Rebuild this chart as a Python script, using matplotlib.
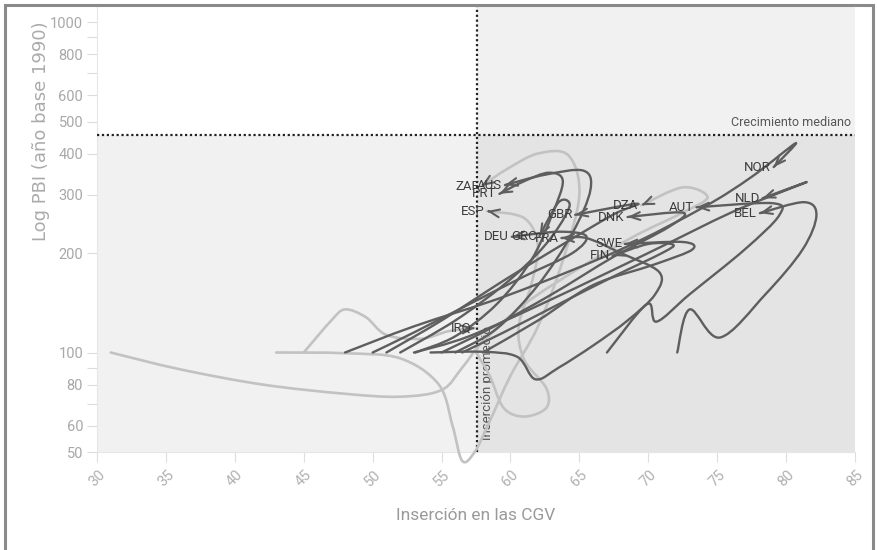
import numpy as np
import matplotlib
matplotlib.use("Agg")
import matplotlib.pyplot as plt
from matplotlib.path import Path
from matplotlib.patches import PathPatch, Rectangle
from matplotlib.ticker import FixedLocator, NullFormatter

# ---- data: GVC insertion (x) vs GDP index, 1990 = 100 (y) ----
countries = ["DZA", "ZAF", "IRQ", "ESP", "NOR", "NLD", "BEL", "AUT", "DNK",
             "GBR", "SWE", "FIN", "DEU", "GRC", "FRA", "AUS", "PRT"]

DZA_x = [31, 36, 42, 48, 52, 55, 56.5, 58, 61, 65, 69, 72.5, 74.3, 72.5, 69.5]
DZA_y = [100, 89, 80, 75, 73.5, 77, 90, 108, 140, 180, 225, 265, 295, 316, 279]

ZAF_x = [43, 48, 52, 54.8, 55.8, 56.5, 57.4, 58.5, 60, 62, 63.8, 65, 64.2, 62, 59.8, 57.9]
ZAF_y = [100, 99.5, 96, 80, 60, 47, 50, 62, 85, 120, 190, 300, 395, 400, 360, 319]

IRQ_x = [45, 47, 48, 49.5, 51, 53.5, 55.5, 57.4]
IRQ_y = [100, 125, 135, 128, 113, 110, 116, 118.6]

ESP_x = [57.5, 58.5, 59.5, 61, 62.6, 62.6, 61, 60.6, 61.5, 62, 61, 58.3]
ESP_y = [100, 85, 68, 64, 68, 78, 95, 120, 160, 210, 255, 268]

NOR_x = [48, 53, 60, 68, 74, 77.5, 80.7, 79.1]
NOR_y = [100, 120, 150, 205, 275, 340, 430, 364]

NLD_x = [53, 57, 63, 70, 76, 80, 81.5, 78.3]
NLD_y = [100, 112, 145, 200, 265, 310, 328, 293]

BEL_x = [72.1, 73.0, 75.2, 78.5, 81.2, 82.2, 81.3, 78.1]
BEL_y = [100, 135, 111, 150, 205, 260, 285, 264]

AUT_x = [67, 69.9, 70.6, 73, 77, 79.5, 79, 73.5]
AUT_y = [100, 140, 124, 150, 205, 260, 283, 275]

DNK_x = [55, 58.5, 63, 67.5, 71.5, 72.5, 68.5]
DNK_y = [100, 118, 150, 195, 240, 265, 257]

GBR_x = [51, 55, 59.5, 64, 67.5, 69.2, 64.7]
GBR_y = [100, 125, 165, 215, 262, 282, 261]

SWE_x = [58, 62, 66, 70.5, 73.2, 72.5, 68.3]
SWE_y = [100, 125, 160, 185, 205, 216, 213]

FIN_x = [56.5, 59.5, 63.5, 67.5, 71, 71.8, 70, 67.4]
FIN_y = [100, 115, 140, 170, 200, 212, 213, 196]

DEU_x = [50, 53, 57, 61, 64.5, 65.5, 63.5, 60.1]
DEU_y = [100, 115, 140, 170, 200, 225, 232, 224]

GRC_x = [52, 56, 59.5, 62, 63.5, 64.3, 63.5, 62.1]
GRC_y = [100, 125, 160, 200, 240, 280, 285, 225]

FRA_x = [54.2, 58, 60.5, 61.8, 63.5, 66, 68.5, 70.5, 70.8, 68, 65.5, 63.7]
FRA_y = [100, 100.5, 97, 83, 90, 105, 125, 150, 175, 200, 222, 222]

AUS_x = [56, 59, 62, 64.5, 65.8, 65.3, 62.5, 59.6]
AUS_y = [100, 118, 160, 230, 310, 355, 345, 321]

PRT_x = [53.1, 56, 59, 61.5, 63, 63.8, 62.8, 61, 59.2]
PRT_y = [100, 112, 140, 190, 260, 330, 350, 330, 302]

series = {c: (globals()[c + "_x"], globals()[c + "_y"]) for c in countries}
light_series = {"DZA", "ZAF", "IRQ", "ESP"}

x_ticks = [30, 35, 40, 45, 50, 55, 60, 65, 70, 75, 80, 85]
y_ticks = [50, 60, 80, 100, 200, 300, 400, 500, 600, 800, 1000]
y_minor = [70, 90, 700, 900]

avg_insertion = 57.6
median_growth = 455

# ---- figure ----
fig = plt.figure(figsize=(8.78, 5.5), dpi=100)
ax = fig.add_axes([97 / 878, 98 / 550, 758 / 878, 446 / 550])
ax.set_yscale("log")
ax.set_xlim(30, 85)
ax.set_ylim(50, 1118)

fonts = ["Liberation Sans Narrow", "Roboto", "DejaVu Sans"]

# quadrant shading
ymin, ymax = ax.get_ylim()
ax.add_patch(Rectangle((30, ymin), avg_insertion - 30, median_growth - ymin,
                       facecolor="#f1f1f1", edgecolor="none", zorder=0))
ax.add_patch(Rectangle((avg_insertion, ymin), 85 - avg_insertion, median_growth - ymin,
                       facecolor="#e4e4e4", edgecolor="none", zorder=0))
ax.add_patch(Rectangle((avg_insertion, median_growth), 85 - avg_insertion, ymax - median_growth,
                       facecolor="#f1f1f1", edgecolor="none", zorder=0))

ax.axvline(avg_insertion, color="#222222", lw=1.6, ls=(0, (1, 1.2)), zorder=3)
ax.axhline(median_growth, color="#222222", lw=1.6, ls=(0, (1, 1.2)), zorder=3)
ax.text(84.7, median_growth * 1.04, "Crecimiento mediano", ha="right", va="bottom",
        fontsize=9, color="#555555", family=fonts)
ax.text(avg_insertion + 0.25, 54.3, "Inserción promedio", rotation=90, ha="left",
        va="bottom", fontsize=9.5, color="#555555", family=fonts, zorder=4)


def smooth_path(xs, ys):
    """Catmull-Rom style Bezier path built in (x, log y) space."""
    p = np.column_stack([np.asarray(xs, float), np.log10(np.asarray(ys, float))])
    n = len(p)
    verts = [p[0]]
    codes = [Path.MOVETO]
    c2 = p[0]
    for i in range(n - 1):
        p0 = p[max(i - 1, 0)]
        p1 = p[i]
        p2 = p[i + 1]
        p3 = p[min(i + 2, n - 1)]
        c1 = p1 + (p2 - p0) / 6.0
        c2 = p2 - (p3 - p1) / 6.0
        verts += [c1, c2, p2]
        codes += [Path.CURVE4] * 3
    v = np.array(verts)
    v[:, 1] = 10 ** v[:, 1]
    return Path(v, codes), c2, p[-1]


order = [c for c in countries if c in light_series] + [c for c in countries if c not in light_series]
for c in order:
    xs, ys = series[c]
    col = "#c2c2c2" if c in light_series else "#5e5e5e"
    lw = 1.9 if c in light_series else 1.7
    z = 4 if c in light_series else 5
    path, c2, end = smooth_path(xs, ys)
    ax.add_patch(PathPatch(path, facecolor="none", edgecolor=col, lw=lw,
                           capstyle="round", joinstyle="round", zorder=z, clip_on=False))
    back = end - 0.3 * (end - c2)
    ax.annotate("", xy=(end[0], 10 ** end[1]), xytext=(back[0], 10 ** back[1]),
                arrowprops=dict(arrowstyle="->,head_length=0.7,head_width=0.28",
                                color="#5e5e5e", lw=1.5, shrinkA=0, shrinkB=0),
                zorder=6)
    ax.annotate(c, xy=(end[0], 10 ** end[1]), xytext=(-2, 0), textcoords="offset points",
                ha="right", va="center", fontsize=9.5, color="#3c3c3c", family=fonts,
                zorder=7)

# axes styling
for s in ["top", "right"]:
    ax.spines[s].set_visible(False)
ax.spines["left"].set_color("#e6e6e6")
ax.spines["bottom"].set_color("#e6e6e6")
ax.spines["left"].set_linewidth(0.8)
ax.spines["bottom"].set_linewidth(0.8)

ax.xaxis.set_major_locator(FixedLocator(x_ticks))
ax.set_xticklabels([str(t) for t in x_ticks], rotation=45, family=fonts)
ax.yaxis.set_major_locator(FixedLocator(y_ticks))
ax.yaxis.set_minor_locator(FixedLocator(y_minor))
ax.yaxis.set_minor_formatter(NullFormatter())
ax.set_yticklabels([str(t) for t in y_ticks], family=fonts)
ax.tick_params(axis="x", colors="#dddddd", labelcolor="#b0b0b0", labelsize=10.5,
               length=7, width=0.8, pad=4)
ax.tick_params(axis="y", which="both", colors="#dddddd", labelcolor="#a8a8a8",
               labelsize=10.5, length=7, width=0.8, pad=3)

ax.set_xlabel("Inserción en las CGV", fontsize=12.5, color="#9a9a9a", family=fonts,
              labelpad=14)
ax.set_ylabel("Log PBI (año base 1990)", fontsize=13, color="#ababab",
              family=["DejaVu Sans"])
ax.yaxis.set_label_coords(-0.062, 0.72)

# outer frame (open at the bottom edge)
fig.add_artist(Rectangle((5 / 878, -0.05), 868 / 878, 1.05 - 5 / 550,
                         transform=fig.transFigure, fill=False,
                         edgecolor="#8a8a8a", lw=2.2))

fig.savefig("out.png", dpi=100)
